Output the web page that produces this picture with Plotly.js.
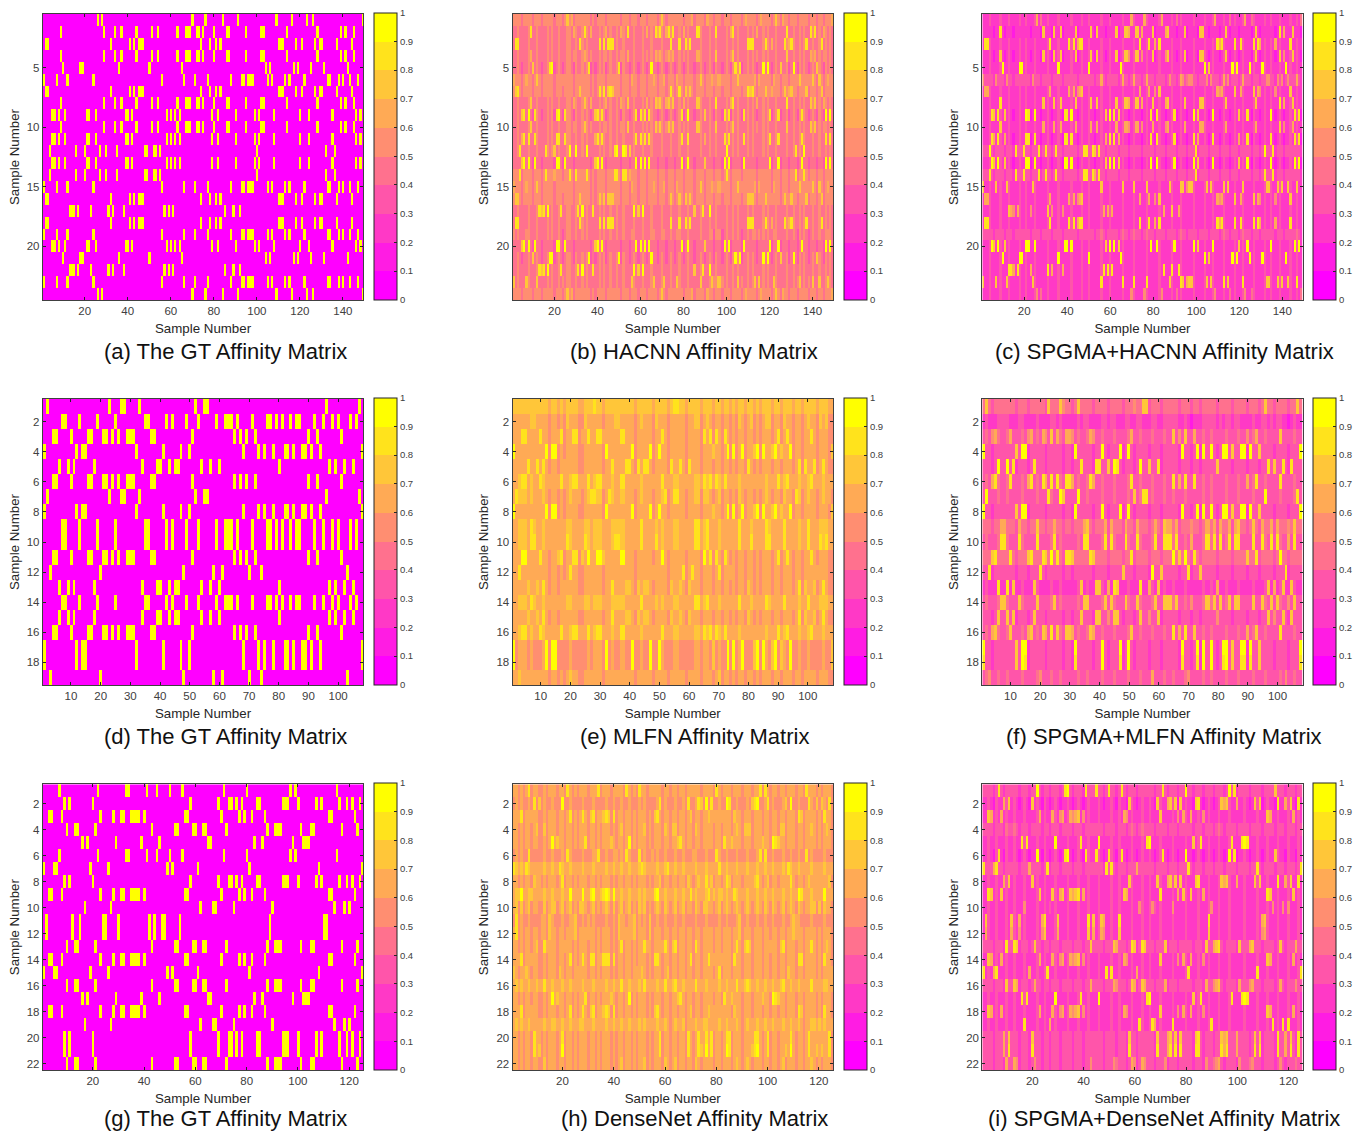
<!DOCTYPE html>
<html><head><meta charset="utf-8">
<script src="https://cdn.plot.ly/plotly-3.0.1.min.js"></script>
<style>html,body{margin:0;padding:0;background:#fff}#chart{width:1367px;height:1132px}</style>
</head><body><div id="chart"></div>
<script>
// Values. GT panels: the columns that are yellow in each repeated row pattern.
// Model panels are an estimate: a level per row, a level for matching cells per row, and the visible column stripes.
const set1Groups = {
  A:[26,28,70,76,84,91,109,116,123,126,149],
  B:[9,29,34,37,44,51,54,63,67,68,69,72,73,75,80,86,87,95,102,103,114,128,139,141,145],
  C:[2,3,32,41,43,45,46,47,74,78,81,83,110,111,112,118,121,127,129,130,137,144],
  D:[10,18,19,36,50,65,104,106,117,119,125,131,142],
  E:[1,7,12,24,56,66,71,77,88,93,94,96,97,98,105,107,113,115,122,133,134,138,140,143,147],
  F:[5,6,8,11,21,22,25,39,40,42,58,60,62,64,79,82,90,99,101,108,120,124,135,146,148],
  G:[4,16,20,27,30,35,48,49,52,53,55,100,132,136],
  H:[13,14,15,17,23,31,33,38,57,59,61,85,89,92]
};
const set1Rows = "ABCBDECBFBFGFGECHCEFDHEA";
const set2Groups = {
  A:[2,23,27,28,33,52,55,56,96,107],
  B:[7,8,13,19,25,35,36,42,44,49,53,59,62,63,64,66,71,76,77,79,81,84,86,87,92,95,98,100,104,106],
  C:[4,5,10,16,17,21,22,24,26,29,30,31,37,38,51,65,67,69,72,90,93,101],
  D:[1,12,14,15,32,41,47,50,68,73,75,78,82,83,85,88,89,91,94,108],
  E:[6,9,11,18,34,39,40,43,45,46,54,57,60,80,97,99,102,105],
  F:[3,20,48,58,61,70,74,103]
};
const set2Rows = "ABCDECADBBCFEBECDDF";
const set3Groups = {
  A:[7,22,33,34,41,45,50,55,71,80,97,99,115],
  B:[9,11,20,58,69,73,74,76,78,84,85,94,95,96,100,107,109,116,119,121,124],
  C:[3,4,8,23,28,31,32,35,36,37,38,40,56,57,70,77,79,82,87,112,113,122],
  D:[10,13,14,21,43,52,53,59,60,63,64,72,88,91,92,93,101,105,106,117,123],
  E:[16,18,29,39,46,65,66,83,86,98,102,103,104],
  F:[1,5,6,19,26,49,51,61,81,108,125],
  G:[17,27,62,67,68,75,90,114,118,120],
  H:[2,12,15,24,25,30,42,44,47,48,54,89,110,111]
};
const set3Rows = "ABCDEAFBCGHHDCFDECGBBD";

const hacnnBase = [.50,.46,.47,.47,.45,.50,.50,.47,.45,.47,.48,.47,.44,.50,.50,.52,.47,.48,.48,.44,.45,.46,.46,.50];
const hacnnPos  = [.72,.85,.85,.72,.92,.70,.80,.80,.88,.75,.85,.90,.95,.85,.72,.75,.88,.85,.55,.95,.95,.90,.75,.72];
const hacnnUp   = [3,8,12,17,19,22,26,27,30,33,35,41,43,46,49,52,57,61,65,70,74,78,82,88,92,95,100,103,105,110,112,117,119,123,128,131,134,136,140,143,146,148];
const hacnnDown = [5,10,14,20,24,29,37,39,44,51,55,59,63,68,72,76,80,85,90,94,98,102,107,114,121,125,129,133,138,142,145];

const spgmaHacnnBase = [.28,.24,.28,.25,.27,.30,.29,.26,.25,.26,.25,.30,.25,.31,.28,.29,.28,.27,.31,.27,.27,.27,.28,.27];
const spgmaHacnnPos  = [.65,.80,.85,.75,.95,.62,.70,.78,.90,.70,.85,.90,.95,.85,.75,.72,.70,.85,.42,.95,.95,.85,.80,.62];
const spgmaHacnnUp   = [4,9,13,18,21,25,31,36,42,47,50,56,60,66,71,77,83,89,93,99,104,108,113,118,122,127,132,135,139,144,147];
const spgmaHacnnDown = [6,11,15,23,28,33,38,45,53,58,64,69,75,81,86,91,96,101,106,111,116,120,126,130,137,141,149];

const mlfnBase = [.70,.60,.64,.62,.645,.675,.655,.61,.675,.665,.645,.63,.63,.665,.64,.675,.57,.57,.635];
const mlfnPos  = [.78,.75,.85,.95,.85,.85,.85,.95,.80,.85,.88,.85,.78,.82,.82,.85,.95,.95,.72];
const mlfnUp   = [3,4,5,7,11,20,26,28,29,30,34,37,38,44,51,55,56,62,63,65,66,70,77,86,92,97,100,105];
const mlfnDown = [13,16,18,23,24,31,42,48,53,59,64,68,71,74,76,79,82,84,88,91,95,98,103,107,108];

const spgmaMlfnBase = [.42,.27,.36,.30,.32,.38,.37,.30,.40,.36,.40,.35,.28,.37,.32,.38,.31,.30,.36];
const spgmaMlfnPos  = [.75,.35,.72,.95,.92,.85,.90,.95,.72,.85,.92,.90,.80,.75,.75,.80,.95,.92,.58];
const spgmaMlfnUp   = [2,6,9,14,19,24,27,33,36,41,45,50,54,58,62,65,69,75,78,83,87,92,96,101,106];
const spgmaMlfnDown = [4,12,16,22,28,31,38,43,48,52,57,61,67,71,74,80,85,90,94,99,104];

const denseBase = [.64,.58,.63,.60,.61,.58,.66,.60,.66,.65,.58,.60,.64,.63,.60,.66,.64,.63,.66,.60,.60,.60];
const densePos  = [.85,.90,.78,.75,.88,.85,.85,.82,.90,.75,.82,.82,.78,.85,.82,.78,.88,.80,.75,.85,.88,.72];
const denseUp   = [2,4,7,13,16,20,23,28,32,37,40,43,46,50,52,57,60,64,67,72,76,81,84,88,92,96,99,102,106,109,112,117,122];
const denseDown = [3,5,8,11,12,14,18,21,24,26,30,33,35,39,41,44,47,49,53,55,59,62,65,68,71,74,79,82,86,90,94,98,101,104,107,111,114,119,121,125];

const spgmaDenseBase = [.30,.25,.28,.30,.29,.25,.33,.26,.27,.28,.26,.29,.30,.27,.27,.30,.28,.27,.28,.30,.30,.33];
const spgmaDensePos  = [.88,.82,.68,.42,.88,.88,.85,.80,.78,.55,.82,.72,.80,.72,.85,.72,.92,.72,.85,.82,.85,.60];
const spgmaDenseUp   = [3,6,10,13,17,22,25,29,34,38,42,46,51,54,59,63,66,70,75,80,85,89,93,97,103,108,112,116,120,124];
const spgmaDenseDown = [5,9,15,19,24,27,31,36,40,48,53,57,61,68,73,77,83,87,91,95,100,105,110,115,119,123];

const spring10 = ["#ff00ff","#ff1ce3","#ff39c6","#ff55aa","#ff718e","#ff8e71","#ffaa55","#ffc639","#ffe31c","#ffff00"];
const captions = [
  "(a) The GT Affinity Matrix","(b) HACNN Affinity Matrix","(c) SPGMA+HACNN Affinity Matrix",
  "(d) The GT Affinity Matrix","(e) MLFN Affinity Matrix","(f) SPGMA+MLFN Affinity Matrix",
  "(g) The GT Affinity Matrix","(h) DenseNet Affinity Matrix","(i) SPGMA+DenseNet Affinity Matrix"];
const sets = [
  {groups:set1Groups,rows:set1Rows,nCols:149,xTicks:[20,40,60,80,100,120,140],yTicks:[5,10,15,20]},
  {groups:set2Groups,rows:set2Rows,nCols:108,xTicks:[10,20,30,40,50,60,70,80,90,100],yTicks:[2,4,6,8,10,12,14,16,18]},
  {groups:set3Groups,rows:set3Rows,nCols:125,xTicks:[20,40,60,80,100,120],yTicks:[2,4,6,8,10,12,14,16,18,20,22]}
];
const models = [
  [{base:hacnnBase,pos:hacnnPos,up:hacnnUp,down:hacnnDown},{base:spgmaHacnnBase,pos:spgmaHacnnPos,up:spgmaHacnnUp,down:spgmaHacnnDown}],
  [{base:mlfnBase,pos:mlfnPos,up:mlfnUp,down:mlfnDown},{base:spgmaMlfnBase,pos:spgmaMlfnPos,up:spgmaMlfnUp,down:spgmaMlfnDown}],
  [{base:denseBase,pos:densePos,up:denseUp,down:denseDown},{base:spgmaDenseBase,pos:spgmaDensePos,up:spgmaDenseUp,down:spgmaDenseDown}]
];

const W=1367,H=1132;
const colLeft=[42.8,512.5,982.3], colRight=[363.3,833,1302.7], barLeft=[374,843.7,1313.3];
const rowTop=[14,399,784.3], rowBot=[300,685,1070];
const capX=[225,694,1164], capY=[351,736,1118.5];
const stepScale=[];
spring10.forEach((c,i)=>{stepScale.push([i/10,c]);stepScale.push([(i+1)/10,c]);});

const data=[],layout={width:W,height:H,margin:{l:0,r:0,t:0,b:0},paper_bgcolor:"#fff",plot_bgcolor:"#fff",
  font:{family:"Liberation Sans, Arial, sans-serif",color:"#404040",size:11.5},annotations:[],showlegend:false};

function gtMatrix(s){
  return [...s.rows].map(k=>{const g=new Set(s.groups[k]);
    return Array.from({length:s.nCols},(_,i)=>g.has(i+1)?1:0);});
}
function modelMatrix(s,m){
  const up=new Set(m.up),down=new Set(m.down);
  return [...s.rows].map((k,r)=>{const g=new Set(s.groups[k]);
    return Array.from({length:s.nCols},(_,i)=>{
      const c=i+1,isUp=up.has(c),isDown=down.has(c);
      const v=g.has(c)?m.pos[r]+(isUp?.04:isDown?-.18:-.04):m.base[r]+(isUp?.05:isDown?-.06:0);
      return Math.min(1,Math.max(0,v));
    });});
}
for(let r=0;r<3;r++)for(let c=0;c<3;c++){
  const s=sets[r],idx=r*3+c+1,sfx=idx===1?"":String(idx);
  const z=c===0?gtMatrix(s):modelMatrix(s,models[r][c-1]);
  const xs=Array.from({length:s.nCols},(_,i)=>i+1),ys=Array.from({length:s.rows.length},(_,i)=>i+1);
  data.push({type:"heatmap",x:xs,y:ys,z:z,xaxis:"x"+sfx,yaxis:"y"+sfx,zmin:0,zmax:1,colorscale:stepScale,hoverongaps:false,
    colorbar:{thickness:23,thicknessmode:"pixels",lenmode:"pixels",len:rowBot[r]-rowTop[r]+1.3,
      x:barLeft[c]/W,xanchor:"left",xpad:0,ypad:0,y:1-(rowTop[r]-1.3)/H,yanchor:"top",
      tickmode:"array",tickvals:[0,.1,.2,.3,.4,.5,.6,.7,.8,.9,1],ticktext:["0","0.1","0.2","0.3","0.4","0.5","0.6","0.7","0.8","0.9","1"],
      ticks:"inside",ticklen:3,tickcolor:"#262626",tickwidth:1,outlinecolor:"#262626",outlinewidth:1,
      tickfont:{size:9.5,color:"#404040"}}});
  const axisBase={showgrid:false,zeroline:false,showline:true,linecolor:"#404040",linewidth:1,mirror:"ticks",ticks:"inside",ticklen:3,tickcolor:"#262626",tickwidth:1,
    tickfont:{size:11.5,color:"#404040"},tickmode:"array"};
  layout["xaxis"+sfx]=Object.assign({},axisBase,{domain:[colLeft[c]/W,colRight[c]/W],anchor:"y"+sfx,range:[.5,s.nCols+.5],
    tickvals:s.xTicks,title:{text:"Sample Number",font:{size:13.3,color:"#262626"},standoff:7}});
  layout["yaxis"+sfx]=Object.assign({},axisBase,{domain:[1-rowBot[r]/H,1-rowTop[r]/H],anchor:"x"+sfx,range:[s.rows.length+.5,.5],
    tickvals:s.yTicks,title:{text:"Sample Number",font:{size:13.3,color:"#262626"},standoff:4}});
  layout.annotations.push({xref:"paper",yref:"paper",x:capX[c]/W,y:1-capY[r]/H,xanchor:"center",yanchor:"middle",showarrow:false,
    text:captions[idx-1],font:{size:22,color:"#111"}});
}
Plotly.newPlot("chart",data,layout,{displayModeBar:false,staticPlot:true});
</script></body></html>
